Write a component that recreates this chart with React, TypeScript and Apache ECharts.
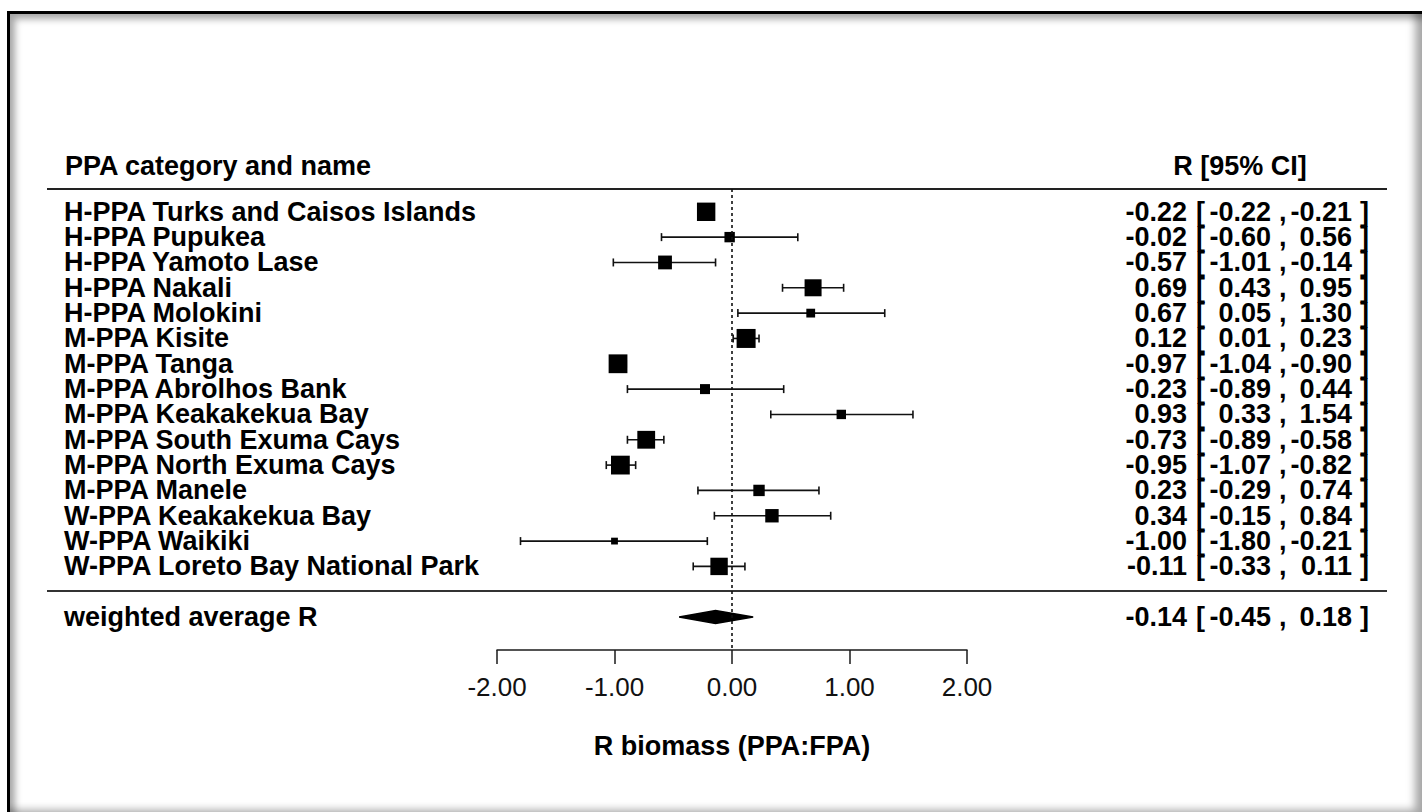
import React, { useEffect, useRef } from "react";
import * as echarts from "echarts";

// ---- data ----
const names = [
  "H-PPA Turks and Caisos Islands",
  "H-PPA Pupukea",
  "H-PPA Yamoto Lase",
  "H-PPA Nakali",
  "H-PPA Molokini",
  "M-PPA Kisite",
  "M-PPA Tanga",
  "M-PPA Abrolhos Bank",
  "M-PPA Keakakekua Bay",
  "M-PPA South Exuma Cays",
  "M-PPA North Exuma Cays",
  "M-PPA Manele",
  "W-PPA Keakakekua Bay",
  "W-PPA Waikiki",
  "W-PPA Loreto Bay National Park",
];
const estimates = [-0.22, -0.02, -0.57, 0.69, 0.67, 0.12, -0.97, -0.23, 0.93, -0.73, -0.95, 0.23, 0.34, -1.0, -0.11];
const lower = [-0.22, -0.6, -1.01, 0.43, 0.05, 0.01, -1.04, -0.89, 0.33, -0.89, -1.07, -0.29, -0.15, -1.8, -0.33];
const upper = [-0.21, 0.56, -0.14, 0.95, 1.3, 0.23, -0.9, 0.44, 1.54, -0.58, -0.82, 0.74, 0.84, -0.21, 0.11];
// relative study weights (box size)
const weights = [0.92, 0.52, 0.69, 0.85, 0.44, 0.95, 0.94, 0.5, 0.47, 0.89, 0.94, 0.57, 0.67, 0.34, 0.87];

const summaryLabel = "weighted average R";
const summaryEst = -0.14;
const summaryLo = -0.45;
const summaryHi = 0.18;

const xTicks = [-2, -1, 0, 1, 2];
const xTitle = "R biomass (PPA:FPA)";
const leftHeader = "PPA category and name";
const rightHeader = "R [95% CI]";

// ---- layout constants ----
const FONT = '"Liberation Sans", Arial, sans-serif';
const BOLD = `bold 27px ${FONT}`;
const SUMMARY_ROW = names.length + 1;
const LABEL_X = 64;
const COL_EST = 1187;
const COL_LB = 1196;
const COL_LO = 1271;
const COL_COMMA = 1279;
const COL_HI = 1352;
const COL_RB = 1360;

const fmt = (v: number) => v.toFixed(2);

export default function App() {
  const ref = useRef<HTMLDivElement>(null);

  useEffect(() => {
    if (!ref.current) return;
    const chart = echarts.init(ref.current, undefined, { renderer: "svg" });

    const rows = names.map((n, i) => [estimates[i], lower[i], upper[i], i, weights[i]]);
    const textRows = names
      .map((n, i) => [i, estimates[i], lower[i], upper[i], n])
      .concat([[SUMMARY_ROW, summaryEst, summaryLo, summaryHi, summaryLabel]]);

    const txt = (text: string, x: number, y: number, align: string) => ({
      type: "text",
      style: { text, x, y, fill: "#000", font: BOLD, align, verticalAlign: "middle" },
    });

    const option: any = {
      animation: false,
      backgroundColor: "transparent",
      grid: { left: 497, right: 455, top: 189, bottom: 162, containLabel: false },
      xAxis: {
        type: "value",
        min: -2,
        max: 2,
        interval: 1,
        position: "bottom",
        splitLine: { show: false },
        axisLine: { show: true, onZero: false, lineStyle: { color: "#1a1a1a", width: 1.5 } },
        axisTick: { show: true, length: 14, lineStyle: { color: "#1a1a1a", width: 1.5 } },
        axisLabel: {
          margin: 24,
          color: "#111",
          fontSize: 26,
          fontFamily: FONT,
          formatter: (v: number) => (xTicks.includes(v) ? fmt(v) : ""),
        },
        name: xTitle,
        nameLocation: "middle",
        nameGap: 82,
        nameTextStyle: { color: "#000", fontSize: 27, fontWeight: "bold", fontFamily: FONT },
      },
      yAxis: {
        type: "value",
        inverse: true,
        min: -0.9,
        max: 17.3,
        show: false,
      },
      graphic: [
        {
          type: "text",
          style: { text: leftHeader, x: 65, y: 166, fill: "#000", font: BOLD, align: "left", verticalAlign: "middle" },
        },
        {
          type: "text",
          style: { text: rightHeader, x: 1240, y: 166, fill: "#000", font: BOLD, align: "center", verticalAlign: "middle" },
        },
        { type: "line", shape: { x1: 47, y1: 189, x2: 1387, y2: 189 }, style: { stroke: "#222", lineWidth: 2 } },
        { type: "line", shape: { x1: 47, y1: 591, x2: 1387, y2: 591 }, style: { stroke: "#333", lineWidth: 2 } },
      ],
      series: [
        {
          type: "custom",
          name: "ci",
          clip: false,
          data: rows,
          encode: { x: [1, 2], y: 3 },
          renderItem: (params: any, api: any) => {
            const y = api.value(3);
            const a = api.coord([api.value(1), y]);
            const b = api.coord([api.value(2), y]);
            const st = { stroke: "#111", lineWidth: 1.6 };
            return {
              type: "group",
              children: [
                { type: "line", shape: { x1: a[0], y1: a[1], x2: b[0], y2: b[1] }, style: st },
                { type: "line", shape: { x1: a[0], y1: a[1] - 4, x2: a[0], y2: a[1] + 4 }, style: st },
                { type: "line", shape: { x1: b[0], y1: b[1] - 4, x2: b[0], y2: b[1] + 4 }, style: st },
              ],
            };
          },
          z: 2,
        },
        {
          type: "scatter",
          name: "estimate",
          data: rows.map((r) => [r[0], r[3], r[4]]),
          symbol: "rect",
          symbolSize: (v: number[]) => v[2] * 20,
          itemStyle: { color: "#000", opacity: 1 },
          z: 3,
          markLine: {
            silent: true,
            symbol: ["none", "none"],
            label: { show: false },
            lineStyle: { type: [3, 3], color: "#111", width: 1.6 },
            data: [{ xAxis: 0 }],
          },
        },
        {
          type: "custom",
          name: "summary",
          clip: false,
          data: [[summaryEst, summaryLo, summaryHi, SUMMARY_ROW]],
          encode: { x: [0, 1, 2], y: 3 },
          renderItem: (params: any, api: any) => {
            const y = api.value(3);
            const c = api.coord([api.value(0), y]);
            const l = api.coord([api.value(1), y]);
            const h = api.coord([api.value(2), y]);
            return {
              type: "polygon",
              shape: {
                points: [
                  [l[0], l[1]],
                  [c[0], c[1] - 6.5],
                  [h[0], h[1]],
                  [c[0], c[1] + 6.5],
                ],
              },
              style: { fill: "#000", stroke: "#000", lineWidth: 1.5 },
            };
          },
          z: 3,
        },
        {
          type: "custom",
          name: "texts",
          clip: false,
          silent: true,
          data: textRows,
          encode: { y: 0 },
          renderItem: (params: any, api: any) => {
            const i = params.dataIndex;
            const r = textRows[i] as any[];
            const y = api.coord([0, r[0]])[1];
            return {
              type: "group",
              children: [
                txt(String(r[4]), LABEL_X, y, "left"),
                txt(fmt(r[1]), COL_EST, y, "right"),
                txt("[", COL_LB, y, "left"),
                txt(fmt(r[2]), COL_LO, y, "right"),
                txt(",", COL_COMMA, y, "left"),
                txt(fmt(r[3]), COL_HI, y, "right"),
                txt("]", COL_RB, y, "left"),
              ],
            };
          },
          z: 4,
        },
      ],
    };

    chart.setOption(option);
    return () => chart.dispose();
  }, []);

  return (
    <div style={{ position: "fixed", left: 0, top: 0, width: 1422, height: 812, background: "#fff", overflow: "hidden" }}>
      <div ref={ref} style={{ position: "absolute", left: 0, top: 0, width: 1422, height: 812 }} />
      <div
        style={{
          position: "absolute",
          left: 7,
          top: 11,
          width: 1415,
          height: 801,
          boxSizing: "border-box",
          borderLeft: "3px solid #000",
          borderTop: "3px solid #000",
          boxShadow:
            "inset 6px 6px 7px -1px rgba(0,0,0,0.35), inset -10px -5px 8px -3px rgba(0,0,0,0.35)",
          pointerEvents: "none",
        }}
      />
    </div>
  );
}
